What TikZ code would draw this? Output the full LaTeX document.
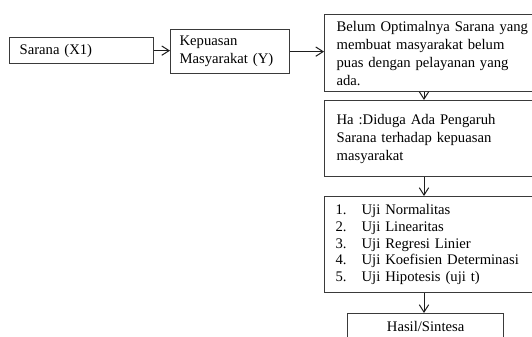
\documentclass[tikz,border=0pt]{standalone}
\usepackage{fontspec}
\setmainfont{Liberation Serif}
\usepackage{tikz}
\usetikzlibrary{arrows.meta}
\definecolor{garis}{HTML}{3A3A3A}
\definecolor{panah}{HTML}{1E1E1E}

\tikzset{
  kotak/.style={draw=garis,line width=0.95pt,rectangle,anchor=north west,
    align=left,inner ysep=0pt,font=\fontsize{11}{13.5}\selectfont},
  alur/.style={draw=panah,line width=0.75pt,-{Straight Barb[length=5.5pt,width=7pt]}}
}

\begin{document}
\begin{tikzpicture}[x=0.75pt,y=-0.75pt]
    \useasboundingbox (0,0) rectangle (532,336);
    \clip (0,0) rectangle (532,336);
    % kolom kiri
    \node[kotak,minimum width=108pt,minimum height=19.5pt,inner xsep=7.5pt,text width=93pt]
      (sarana) at (9,37) {Sarana (X1)};
    \node[kotak,minimum width=89.25pt,minimum height=33pt,inner xsep=6.75pt,text width=75.75pt]
      (kepuasan) at (170,29) {Kepuasan\\Masyarakat (Y)};
    % kolom kanan
    \node[kotak,minimum width=162pt,minimum height=57.75pt,inner xsep=9pt,text width=144pt]
      (masalah) at (324,14) {Belum Optimalnya Sarana yang\\membuat masyarakat belum\\puas dengan pelayanan yang\\ada.};
    \node[kotak,minimum width=162pt,minimum height=57pt,inner xsep=9pt,text width=144pt]
      (hipotesis) at (324,100) {Ha :Diduga Ada Pengaruh\\Sarana terhadap kepuasan\\masyarakat};
    \node[kotak,minimum width=162pt,minimum height=72pt,inner xsep=8.25pt,text width=145.5pt,
      font=\fontsize{11}{12.6}\selectfont]
      (uji) at (324,196) {\makebox[19.5pt][l]{1.}Uji Normalitas\\
        \makebox[19.5pt][l]{2.}Uji Linearitas\\
        \makebox[19.5pt][l]{3.}Uji Regresi Linier\\
        \makebox[19.5pt][l]{4.}Uji Koefisien Determinasi\\
        \makebox[19.5pt][l]{5.}Uji Hipotesis (uji t)};
    \node[kotak,align=center,minimum width=117pt,minimum height=19.5pt,inner xsep=4pt,text width=109pt]
      (hasil) at (347,313) {Hasil/Sintesa};
    \coordinate (sumbu) at (424,0);
    % panah
    \draw[alur] (sarana.east) -- (sarana.east -| kepuasan.west);
    \draw[alur] (kepuasan.east) -- (kepuasan.east -| masalah.west);
    \draw[alur] (masalah.south -| sumbu) -- (hipotesis.north -| sumbu);
    \draw[alur] (hipotesis.south -| sumbu) -- (uji.north -| sumbu);
    \draw[alur] (uji.south -| sumbu) -- (hasil.north -| sumbu);
  \end{tikzpicture}
\end{document}
